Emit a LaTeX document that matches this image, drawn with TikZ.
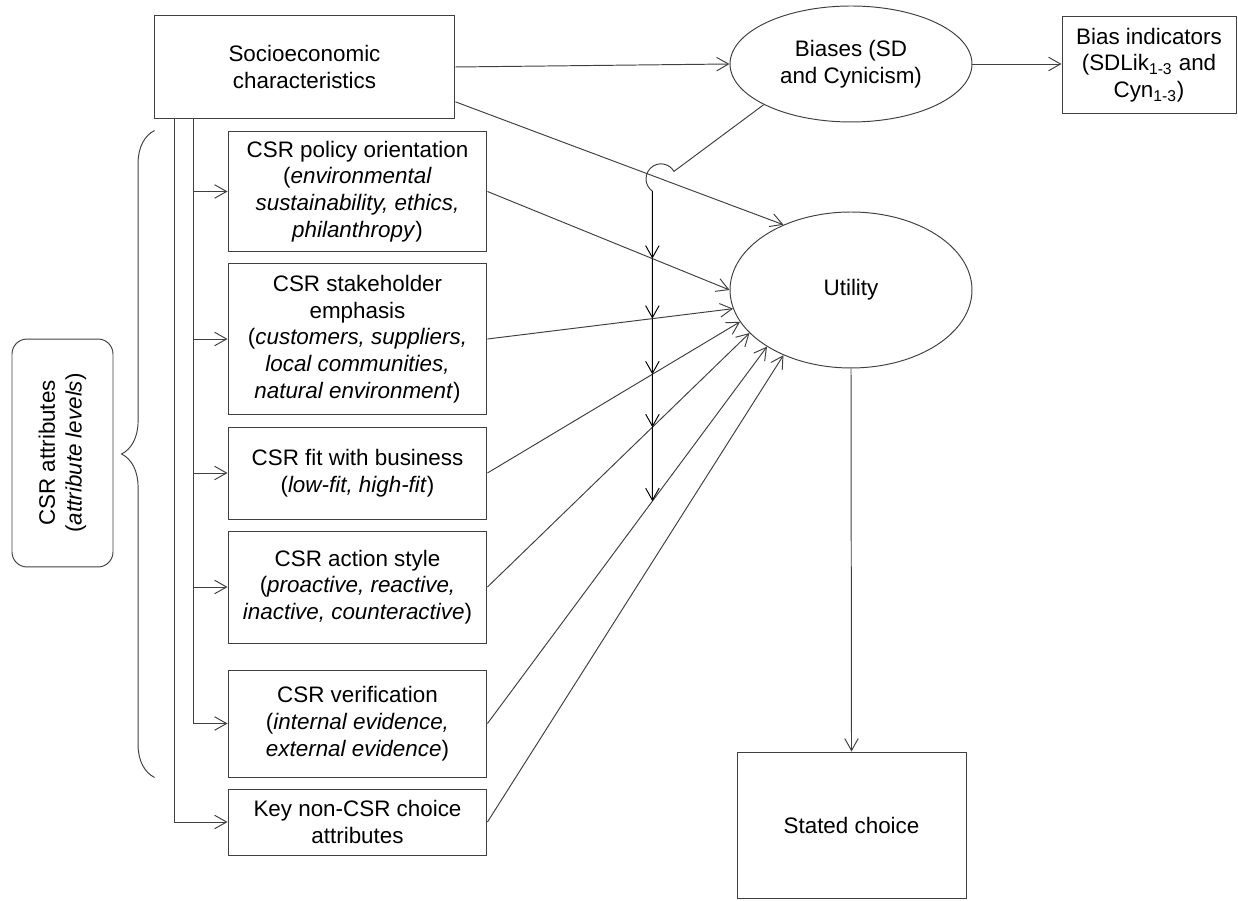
\documentclass[tikz,border=0pt]{standalone}
\usepackage{fontspec}
\setmainfont{Liberation Sans}
\usetikzlibrary{arrows.meta,shapes.geometric,decorations.pathreplacing,calc}
\tikzset{
  line/.style={draw=black!75, line width=0.55pt},
  arr/.style={line, -{Straight Barb[length=2.4mm,width=2.7mm]}},
  box/.style={line, rectangle, align=center, inner sep=2pt, minimum width=5.18cm},
  oval/.style={line, ellipse, align=center, inner sep=0pt, minimum width=4.84cm},
  brace/.style={line, decorate, decoration={brace, amplitude=0.66cm}}
}
\begin{document}
\begin{tikzpicture}[x=0.02cm, y=-0.02cm, font=\fontsize{12.75}{15.2}\selectfont]
\useasboundingbox (0,0) rectangle (1238,901);
% top row
\node[box, minimum width=6.02cm, minimum height=2.08cm] (socio) at (304.5,67) {Socioeconomic\\characteristics};
\node[oval, minimum height=2.32cm] (bias) at (851,64) {Biases (SD\\and Cynicism)};
\node[box, minimum width=3.48cm, minimum height=1.96cm] (ind) at (1149,65)
  {Bias indicators\\(SDLik\textsubscript{1-3} and\\Cyn\textsubscript{1-3})};
% right column
\node[oval, minimum height=3.12cm] (util) at (851,290) {Utility};
\node[box, minimum width=4.58cm, minimum height=2.92cm] (choice) at (851.5,825) {Stated choice};
% CSR attributes
\node[box, minimum height=2.42cm] (pol) at (357.5,191.5)
  {CSR policy orientation\\(\textit{environmental}\\\textit{sustainability, ethics,}\\\textit{philanthropy})};
\node[box, minimum height=3.04cm] (stake) at (357.5,339)
  {CSR stakeholder\\emphasis\\(\textit{customers, suppliers,}\\\textit{local communities,}\\\textit{natural environment})};
\node[box, minimum height=1.84cm] (fit) at (357.5,473) {CSR fit with business\\(\textit{low-fit, high-fit})};
\node[box, minimum height=2.24cm] (act) at (357.5,587)
  {CSR action style\\(\textit{proactive, reactive,}\\\textit{inactive, counteractive})};
\node[box, minimum height=2.14cm] (ver) at (357.5,723.5)
  {CSR verification\\(\textit{internal evidence,}\\\textit{external evidence})};
\node[box, minimum height=1.32cm] (key) at (357.5,822) {Key non-CSR choice\\attributes};
\node[line, rounded corners=0.3cm, rotate=90, minimum width=4.56cm, minimum height=2.02cm, align=center]
  (attr) at (62.5,453) {CSR attributes\\(\textit{attribute levels})};
\draw[brace] ([xshift=-1.46cm]ver.south west) -- ([xshift=-1.46cm]pol.north west);

% socioeconomic feeds
\coordinate (la) at ([xshift=0.42cm]socio.south west);
\coordinate (lb) at ([xshift=0.80cm]socio.south west);
\draw[arr] (la) |- (key.west);
\draw[arr] (lb) |- (ver.west);
\foreach \n in {pol,stake,fit,act}
  \draw[arr] (lb |- \n.west) -- (\n.west);
\draw[arr] (socio.east) -- (bias.west);
\draw[arr] (bias.east) -- (bias.east -| ind.west);
\coordinate (s1) at (socio.-13);
\coordinate (u1) at (util.136);
\draw[arr] (s1) -- (u1);

% attributes to utility
\foreach \n/\a in {pol/180, stake/189, fit/196, act/203, ver/214, key/224}
  \draw[arr] (\n.east) -- (util.\a);
\draw[arr] (util.south) -- (choice.north);

% bias line with hop over
\coordinate (hop) at (intersection of s1--u1 and 661,0--661,900);
\draw[line] (bias.205) -- ($(hop)+(30:0.3cm)$) arc[start angle=30, end angle=235, radius=0.3cm] coordinate (i0);
\coordinate (vbot) at ($(i0)+(0,600)$);
\foreach \n/\a [count=\k] in {pol/180, stake/189, fit/196, act/203, ver/214}
  \coordinate (i\k) at (intersection of i0--vbot and \n.east--util.\a);
\foreach \p/\q in {i0/i1, i1/i2, i2/i3, i3/i4, i4/i5}
  \draw[arr, draw=black] (\p) -- (\q);
\end{tikzpicture}
\end{document}
